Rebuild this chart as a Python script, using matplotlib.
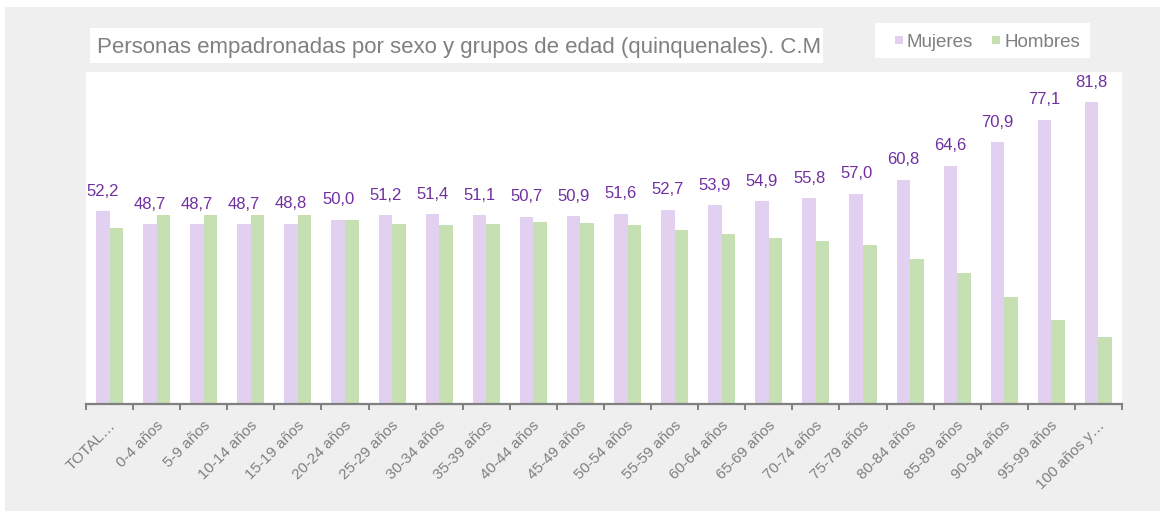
import matplotlib
matplotlib.use("Agg")
import matplotlib.pyplot as plt
from matplotlib.patches import Rectangle
import matplotlib.transforms as mtrans
import numpy as np

categories = ["TOTAL…", "0-4 años", "5-9 años", "10-14 años", "15-19 años", "20-24 años",
              "25-29 años", "30-34 años", "35-39 años", "40-44 años", "45-49 años",
              "50-54 años", "55-59 años", "60-64 años", "65-69 años", "70-74 años",
              "75-79 años", "80-84 años", "85-89 años", "90-94 años", "95-99 años", "100 años y…"]
mujeres = [52.2, 48.7, 48.7, 48.7, 48.8, 50.0, 51.2, 51.4, 51.1, 50.7, 50.9,
           51.6, 52.7, 53.9, 54.9, 55.8, 57.0, 60.8, 64.6, 70.9, 77.1, 81.8]
hombres = [47.8, 51.3, 51.3, 51.3, 51.2, 50.0, 48.8, 48.6, 48.9, 49.3, 49.1,
           48.4, 47.3, 46.1, 45.1, 44.2, 43.0, 39.2, 35.4, 29.1, 22.9, 18.2]
title = "Personas empadronadas por sexo y grupos de edad (quinquenales). C.M"

font = "Liberation Sans"

W, H = 1166, 515
fig = plt.figure(figsize=(W / 100, H / 100), dpi=100)
fig.patch.set_facecolor("white")

def fx(px): return px / W
def fy(py): return 1 - py / H

def box(x0, y0, x1, y1, col, z=-10):
    fig.patches.append(Rectangle((fx(x0), fy(y1)), fx(x1) - fx(x0), fy(y0) - fy(y1),
                                 transform=fig.transFigure, facecolor=col, edgecolor="none", zorder=z))

box(5, 7, 1160, 511, "#efefef", -20)
box(86, 72, 1122, 404, "white")
box(90, 28, 823, 63, "white")
fig.text(fx(97), fy(53), title, fontsize=16, color="#808080", family=font, va="baseline", ha="left")

box(875, 23, 1090, 58, "white")
c_m = "#e2d0f0"
c_h = "#c6e0b4"
for x0, col, lab in [(895, c_m, "Mujeres"), (992, c_h, "Hombres")]:
    box(x0, 36, x0 + 8, 44, col, -5)
    fig.text(fx(x0 + 12), fy(47), lab, fontsize=13.5, color="#7f7f7f", family=font, va="baseline", ha="left")

ax = fig.add_axes([fx(86), fy(404), fx(1122) - fx(86), fy(72) - fy(404)])
ax.set_facecolor("none")
x = np.arange(len(categories))
w = 0.287
ax.bar(x - w / 2, mujeres, width=w, color=c_m, zorder=2)
ax.bar(x + w / 2, hombres, width=w, color=c_h, zorder=2)
for xi, v in zip(x, mujeres):
    ax.annotate(f"{v:.1f}".replace(".", ","), (xi - w / 2, v), xytext=(0, 9), textcoords="offset points",
                ha="center", va="bottom", fontsize=12, color="#7030a0", family=font)

ax.set_xlim(-0.5, len(categories) - 0.5)
ax.set_ylim(0, 90)
ax.set_yticks([])
for s in ["top", "right", "left"]:
    ax.spines[s].set_visible(False)
ax.spines["bottom"].set_color("#808080")
ax.spines["bottom"].set_linewidth(1.6)
ax.set_xticks(np.arange(-0.5, len(categories) + 0.5, 1), minor=False)
ax.set_xticklabels([])
ax.tick_params(axis="x", which="major", length=4, width=1.4, color="#808080", direction="out")
ax.set_xticks(x, minor=True)
ax.set_xticklabels(categories, minor=True, rotation=45, ha="right", va="center", rotation_mode="anchor",
                   fontsize=11, color="#7f7f7f", family=font)
ax.tick_params(axis="x", which="minor", length=0, pad=14)
off = mtrans.ScaledTranslation(4 / 100, 0, fig.dpi_scale_trans)
for lab in ax.get_xticklabels(minor=True):
    lab.set_transform(lab.get_transform() + off)

fig.savefig("out.png", dpi=100, facecolor=fig.get_facecolor())
